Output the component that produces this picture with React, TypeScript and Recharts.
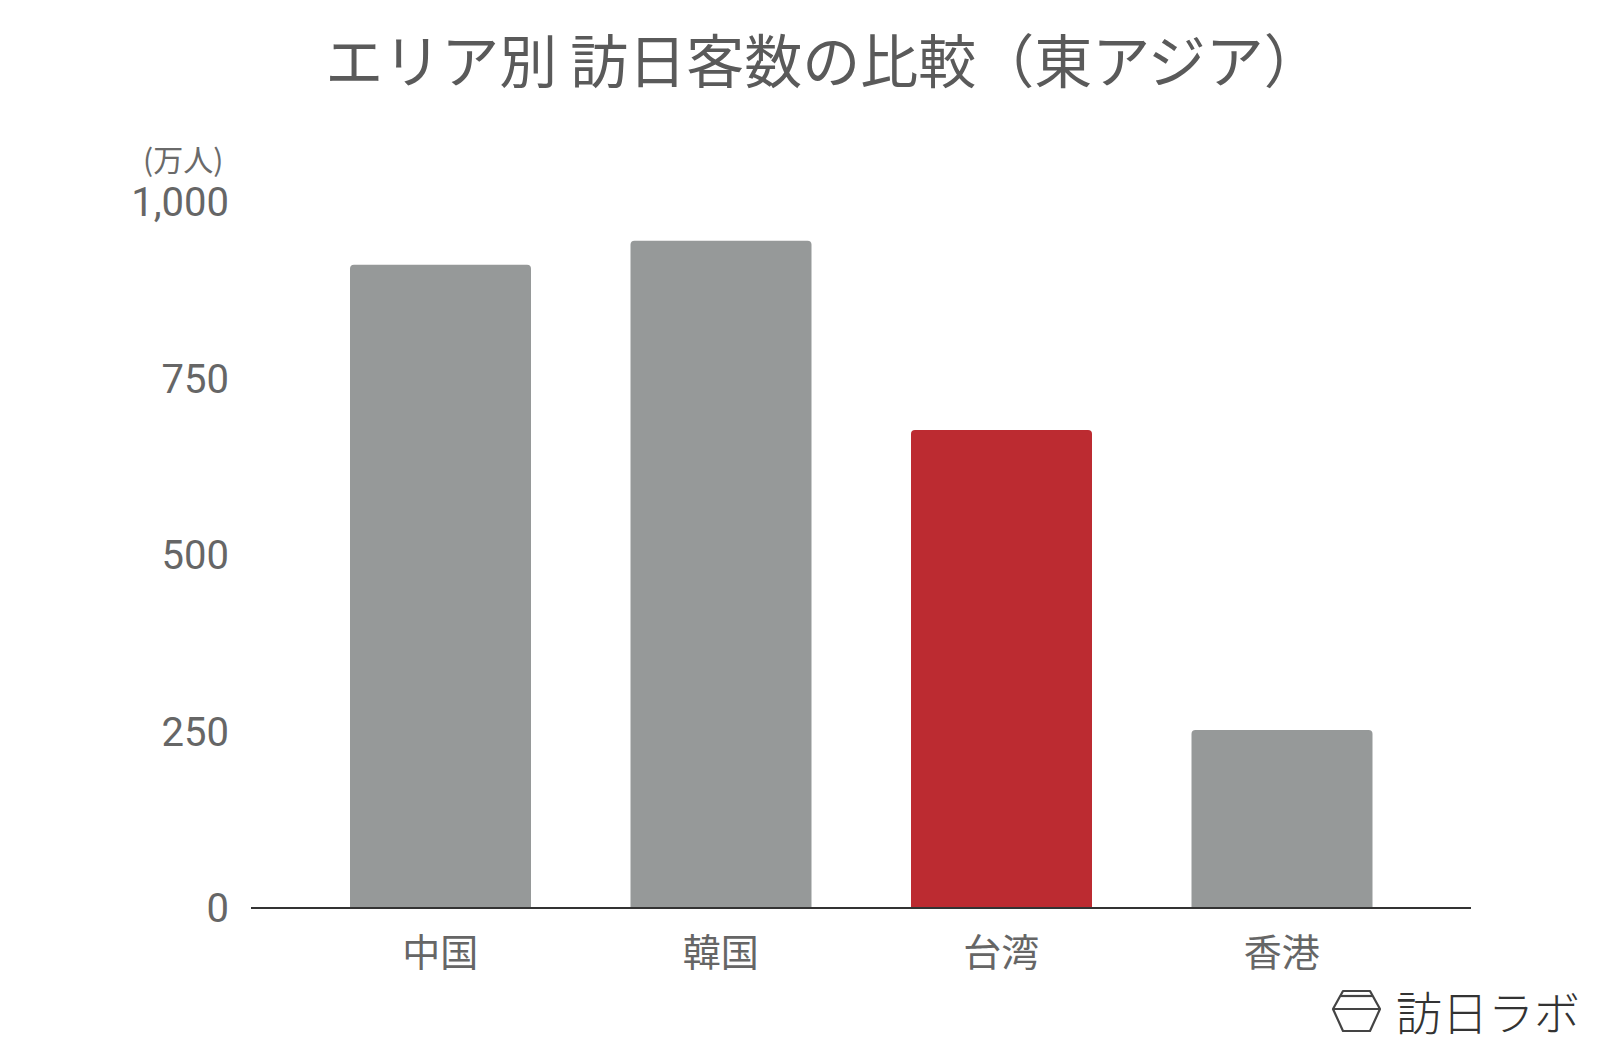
import React from 'react';
import { BarChart, Bar, XAxis, YAxis, Cell } from 'recharts';

const categories = ['中国', '韓国', '台湾', '香港'];
const visitors = [911, 945, 677, 252];
const yTicks = [0, 250, 500, 750, 1000];
const title = 'エリア別 訪日客数の比較（東アジア）';
const unitLabel = '(万人)';
const highlighted = '台湾';
const brand = '訪日ラボ';

const data = categories.map((name, i) => ({ name, value: visitors[i] }));

const GRAY = '#969999';
const RED = '#bc2b31';
const CJK = '"Noto Sans CJK JP", "Noto Sans", sans-serif';

export default function App() {
  return (
    <div style={{ position: 'absolute', left: 0, top: 0, width: 1600, height: 1048, background: '#fff', overflow: 'hidden' }}>
      <div
        style={{
          position: 'absolute',
          left: 0,
          top: 22,
          width: 1647,
          textAlign: 'center',
          fontFamily: CJK,
          fontSize: 58,
          lineHeight: '72px',
          color: '#5a5a5a',
          whiteSpace: 'nowrap',
        }}
      >
        {title}
      </div>
      <div
        style={{
          position: 'absolute',
          left: 143,
          top: 139,
          fontFamily: CJK,
          fontSize: 30,
          lineHeight: '38px',
          color: '#6a6a6a',
          whiteSpace: 'nowrap',
        }}
      >
        {unitLabel}
      </div>
      <BarChart
        width={1600}
        height={1048}
        data={data}
        margin={{ top: 202, right: 129, bottom: 80, left: 0 }}
      >
        <XAxis
          dataKey="name"
          height={60}
          padding={{ left: 49, right: 49 }}
          axisLine={{ stroke: '#333', strokeWidth: 2 }}
          tickLine={false}
          tickSize={0}
          tickMargin={31}
          tick={{ fontFamily: CJK, fontSize: 38, fill: '#666' }}
          interval={0}
        />
        <YAxis
          width={251}
          domain={[0, 1000]}
          ticks={yTicks}
          axisLine={false}
          tickLine={false}
          tickSize={0}
          tickMargin={22}
          tick={{ fontFamily: 'Roboto, sans-serif', fontSize: 40, fill: '#666' }}
          tickFormatter={(v: number) => v.toLocaleString('en-US')}
        />
        <Bar dataKey="value" barSize={181} radius={[4, 4, 0, 0]} isAnimationActive={false}>
          {data.map((d) => (
            <Cell key={d.name} fill={d.name === highlighted ? RED : GRAY} />
          ))}
        </Bar>
      </BarChart>
      <svg style={{ position: 'absolute', left: 1326, top: 984 }} width={60} height={54}>
        <g fill="none" stroke="#444" strokeWidth={2.2} strokeLinejoin="round">
          <polygon points="17,7 44,7 54,25 44,47 17,47 7,25" />
          <line x1={15} y1={12} x2={46} y2={12} />
          <line x1={7} y1={25} x2={54} y2={25} />
        </g>
      </svg>
      <div
        style={{
          position: 'absolute',
          left: 1396,
          top: 980,
          fontFamily: CJK,
          fontSize: 46,
          fontWeight: 300,
          lineHeight: '60px',
          color: '#333',
          whiteSpace: 'nowrap',
        }}
      >
        {brand}
      </div>
    </div>
  );
}
